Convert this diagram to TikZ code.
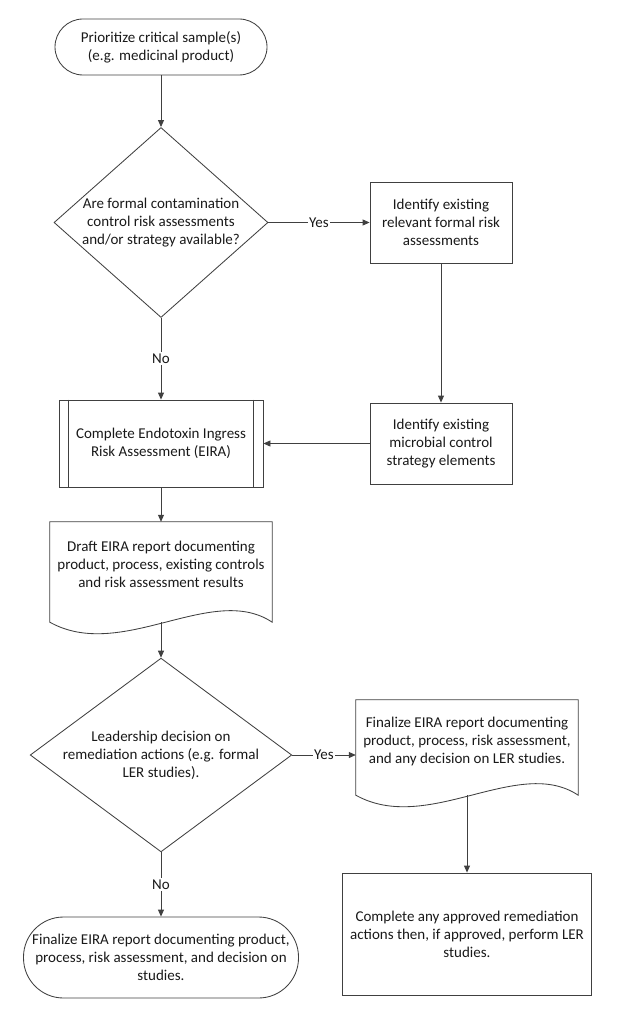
\documentclass[tikz,border=0pt]{standalone}
\usepackage{fontspec}
\setmainfont{Carlito}
\usetikzlibrary{shapes.geometric,arrows.meta}
\begin{document}
\begin{tikzpicture}[x=1pt,y=-1pt,
				every node/.style={font=\fontsize{15}{18}\selectfont,align=center,text=black!90,inner sep=0pt},
				line/.style={draw=black!75,line width=0.85pt},
				box/.style={line,rectangle},
				terminal/.style={box,rounded corners=#1},
				decision/.style={line,diamond,aspect=#1},
				doc/.style={minimum width=222pt},
				arrow/.style={line,-{Triangle[length=7pt,width=6pt]}},
				answer/.style={fill=white,inner sep=1.5pt}]
\useasboundingbox (0,0) rectangle (620,1019);
\node[terminal=28pt,minimum width=212pt,minimum height=56pt] (start) at (161,47) {Prioritize critical sample(s)\\(e.g. medicinal product)};
\node[decision=1.126,minimum width=214pt,minimum height=190pt] (avail) at (161,222.5) {Are formal contamination\\control risk assessments\\and/or strategy available?};
\node[box,minimum width=142pt,minimum height=81pt] (formal) at (441,222.5) {Identify existing\\relevant formal risk\\assessments};
\node[box,minimum width=204pt,minimum height=87pt] (eira) at (161,443.5) {Complete Endotoxin Ingress\\Risk Assessment (EIRA)};
\node[box,minimum width=142pt,minimum height=81pt] (microbial) at (441,443.5) {Identify existing\\microbial control\\strategy elements};
\node[doc,minimum height=85pt] (draft) at (161,564.5) {Draft EIRA report documenting\\product, process, existing controls\\and risk assessment results};
\node[decision=1.35,minimum width=259pt,minimum height=192pt] (leader) at (161,755) {Leadership decision on\\remediation actions (e.g. formal\\LER studies).};
\node[doc,minimum height=82pt] (final) at (467,741) {Finalize EIRA report documenting\\product, process, risk assessment,\\and any decision on LER studies.};
\node[box,minimum width=249pt,minimum height=122pt] (remedy) at (467,934) {Complete any approved remediation\\actions then, if approved, perform LER\\studies.};
\node[terminal=40pt,minimum width=275pt,minimum height=81pt] (close) at (161,957.5) {Finalize EIRA report documenting product,\\process, risk assessment, and decision on\\studies.};

\draw[line] ([xshift=10pt]eira.north west) -- ([xshift=10pt]eira.south west);
\draw[line] ([xshift=-10pt]eira.north east) -- ([xshift=-10pt]eira.south east);
\draw[line] (draft.north west) -- (draft.north east) -- ([yshift=-15pt]draft.south east)
	.. controls +(-60,-40) and +(72,40) .. ([yshift=-15pt]draft.south west) -- cycle;
\draw[line] (final.north west) -- (final.north east) -- ([yshift=-13pt]final.south east)
	.. controls +(-60,-40) and +(72,40) .. ([yshift=-13pt]final.south west) -- cycle;

\draw[arrow] (start) -- (avail);
\draw[arrow] (avail) -- node[answer] {Yes} (formal);
\draw[arrow] (avail) -- node[answer] {No} (eira);
\draw[arrow] (formal) -- (microbial);
\draw[arrow] (microbial) -- (eira);
\draw[arrow] (eira) -- (draft);
\draw[arrow] ([yshift=-15pt]draft.south) -- (leader);
\draw[arrow] (leader.east) -- node[answer] {Yes} (leader.east -| final.west);
\draw[arrow] (leader) -- node[answer] {No} (close);
\draw[arrow] ([yshift=-13pt]final.south) -- (remedy);
\end{tikzpicture}
\end{document}
